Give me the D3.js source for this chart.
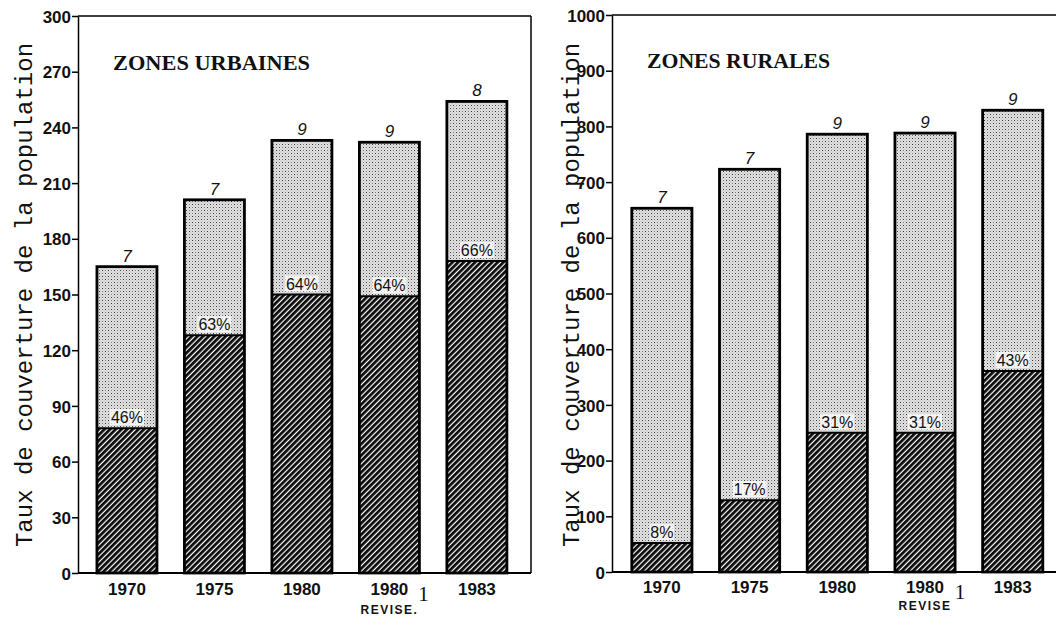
<!DOCTYPE html>
<html><head><meta charset="utf-8">
<script src="https://cdn.jsdelivr.net/npm/d3@7"></script>
<style>body{margin:0;background:#fff}svg{display:block}</style>
</head><body>
<svg id="c" width="1056" height="620"></svg>
<script>
const categories = ["1970", "1975", "1980", "1980R", "1983"];
const categoryLabels = ["1970", "1975", "1980", "1980", "1983"];
const urbanTotal = [165, 201, 233, 232, 254];
const urbanCovered = [78, 128, 150, 149, 168];
const urbanPct = ["46%", "63%", "64%", "64%", "66%"];
const urbanTop = ["7", "7", "9", "9", "8"];
const urbanTicks = [0, 30, 60, 90, 120, 150, 180, 210, 240, 270, 300];
const ruralTotal = [653, 723, 786, 788, 829];
const ruralCovered = [52, 129, 250, 250, 361];
const ruralPct = ["8%", "17%", "31%", "31%", "43%"];
const ruralTop = ["7", "7", "9", "9", "9"];
const ruralTicks = [0, 100, 200, 300, 400, 500, 600, 700, 800, 900, 1000];
const yTitle = "Taux de couverture de la population";

const svg = d3.select("#c");
const defs = svg.append("defs");
const hp = defs.append("pattern").attr("id","hatch").attr("patternUnits","userSpaceOnUse")
  .attr("width",4).attr("height",4).attr("patternTransform","rotate(45)");
hp.append("rect").attr("width",4).attr("height",4).attr("fill","#fff");
hp.append("rect").attr("x",0).attr("width",2.8).attr("height",4).attr("fill","#0a0a0a");
const sp = defs.append("pattern").attr("id","stip").attr("patternUnits","userSpaceOnUse")
  .attr("width",6).attr("height",6);
sp.append("rect").attr("width",6).attr("height",6).attr("fill","#e2e2e2");
[[0,0],[3,3],[3,0],[0,3],[1.5,1.5],[4.5,4.5],[1.5,4.5],[4.5,1.5]].forEach(([x,y],i)=>{
  sp.append("rect").attr("x",x).attr("y",y).attr("width",1).attr("height",1)
    .attr("fill", i<2 ? "#333" : (i<4 ? "#777" : "#aaa"));
});

const SANS = "Liberation Sans, Arial, sans-serif";

function panel(cfg){
  const g = svg.append("g");
  const x = d3.scaleBand().domain(categories).range(cfg.xr)
    .paddingInner(0.314).paddingOuter(cfg.po).align(cfg.align);
  const y = d3.scaleLinear().domain(cfg.domain).range(cfg.yr);
  const [x0] = cfg.xr;
  g.append("line").attr("x1",x0).attr("x2",cfg.frameRight).attr("y1",y(cfg.domain[1])).attr("y2",y(cfg.domain[1]))
    .attr("stroke","#000").attr("stroke-width",1.5);
  g.append("line").attr("x1",x0).attr("x2",cfg.frameRight).attr("y1",y(0)).attr("y2",y(0))
    .attr("stroke","#000").attr("stroke-width",2);
  if (cfg.rightBorder) g.append("line").attr("x1",cfg.frameRight).attr("x2",cfg.frameRight)
    .attr("y1",y(cfg.domain[1])).attr("y2",y(0)).attr("stroke","#000").attr("stroke-width",1.5);
  const ax = g.append("g").attr("transform",`translate(${x0},0)`)
    .call(d3.axisLeft(y).tickValues(cfg.ticks).tickFormat(d3.format("d")).tickSize(6).tickPadding(1).tickSizeOuter(0));
  ax.select(".domain").attr("stroke","#000").attr("stroke-width",1.5);
  ax.selectAll(".tick line").attr("stroke","#000").attr("stroke-width",1.5);
  ax.selectAll(".tick text").style("font-family",SANS)
    .style("font-size","17px").style("font-weight","bold").attr("fill","#111")
    .attr("dy","0.36em");
  categories.forEach((c,i)=>{
    const bx = x(c), bw = x.bandwidth();
    const yt = y(cfg.total[i]), yc = y(cfg.covered[i]), y0 = y(0);
    g.append("rect").attr("x",bx).attr("y",yt).attr("width",bw).attr("height",yc-yt)
      .attr("fill","url(#stip)");
    g.append("rect").attr("x",bx).attr("y",yc).attr("width",bw).attr("height",y0-yc)
      .attr("fill","url(#hatch)");
    g.append("line").attr("x1",bx).attr("x2",bx+bw).attr("y1",yc).attr("y2",yc)
      .attr("stroke","#000").attr("stroke-width",2);
    g.append("rect").attr("x",bx).attr("y",yt).attr("width",bw).attr("height",y0-yt)
      .attr("fill","none").attr("stroke","#000").attr("stroke-width",2.8);
    const cx = bx + bw/2;
    const pw = cfg.pct[i].length*10+4;
    g.append("rect").attr("x",cx-pw/2).attr("y",yc-19).attr("width",pw).attr("height",16)
      .attr("fill","#fff").attr("opacity",0.75);
    g.append("text").attr("x",cx).attr("y",yc-5).attr("text-anchor","middle")
      .style("font-family",SANS).style("font-size","16px").attr("fill","#111").text(cfg.pct[i]);
    g.append("text").attr("x",cx).attr("y",yt-5).attr("text-anchor","middle")
      .style("font-family",SANS).style("font-style","italic")
      .style("font-size","17px").attr("fill","#111").text(cfg.top[i]);
    g.append("text").attr("x",cx).attr("y",cfg.xlabY).attr("text-anchor","middle")
      .style("font-family",SANS).style("font-weight","bold")
      .style("font-size","17px").attr("fill","#111")
      .text(categoryLabels[i]);
    if (c === "1980R") {
      g.append("text").attr("x",cx).attr("y",cfg.revY).attr("text-anchor","middle")
        .style("font-family",SANS).style("font-size","12px").style("font-weight","bold")
        .attr("letter-spacing",1.5).attr("fill","#111").text(cfg.revText);
      g.append("text").attr("x",cx+cfg.fnDx).attr("y",cfg.fnY).attr("text-anchor","middle")
        .style("font-family","Liberation Serif, serif").style("font-size","21px")
        .attr("fill","#111").text("1");
    }
  });
  g.append("text").attr("x",cfg.titleX).attr("y",cfg.titleY)
    .style("font-family","Liberation Serif, serif").style("font-weight","bold").style("font-size","20px")
    .attr("textLength",cfg.titleLen).attr("lengthAdjust","spacingAndGlyphs")
    .attr("fill","#111").text(cfg.title);
  g.append("text").attr("transform",`translate(${cfg.ytX},${cfg.ytY}) rotate(-90)`)
    .attr("text-anchor","middle").style("font-family","Liberation Mono, Courier New, monospace")
    .style("font-size","24px").attr("fill","#111").text(yTitle);
}

panel({xr:[78,531], frameRight:531, rightBorder:true, po:0.246, align:0.44,
  domain:[0,300], yr:[573,16], ticks:urbanTicks,
  total:urbanTotal, covered:urbanCovered, pct:urbanPct, top:urbanTop,
  xlabY:595, revY:614, revText:"REVISE.", fnDx:34, fnY:601,
  title:"ZONES  URBAINES", titleX:113, titleY:70, titleLen:197,
  ytX:32, ytY:295});
panel({xr:[612,1056], frameRight:1056, rightBorder:false, po:0.188, align:0.6,
  domain:[0,1000], yr:[572,15], ticks:ruralTicks,
  total:ruralTotal, covered:ruralCovered, pct:ruralPct, top:ruralTop,
  xlabY:593, revY:610, revText:"REVISE", fnDx:35, fnY:599,
  title:"ZONES  RURALES", titleX:647, titleY:68, titleLen:183,
  ytX:579, ytY:295});
</script>
</body></html>
